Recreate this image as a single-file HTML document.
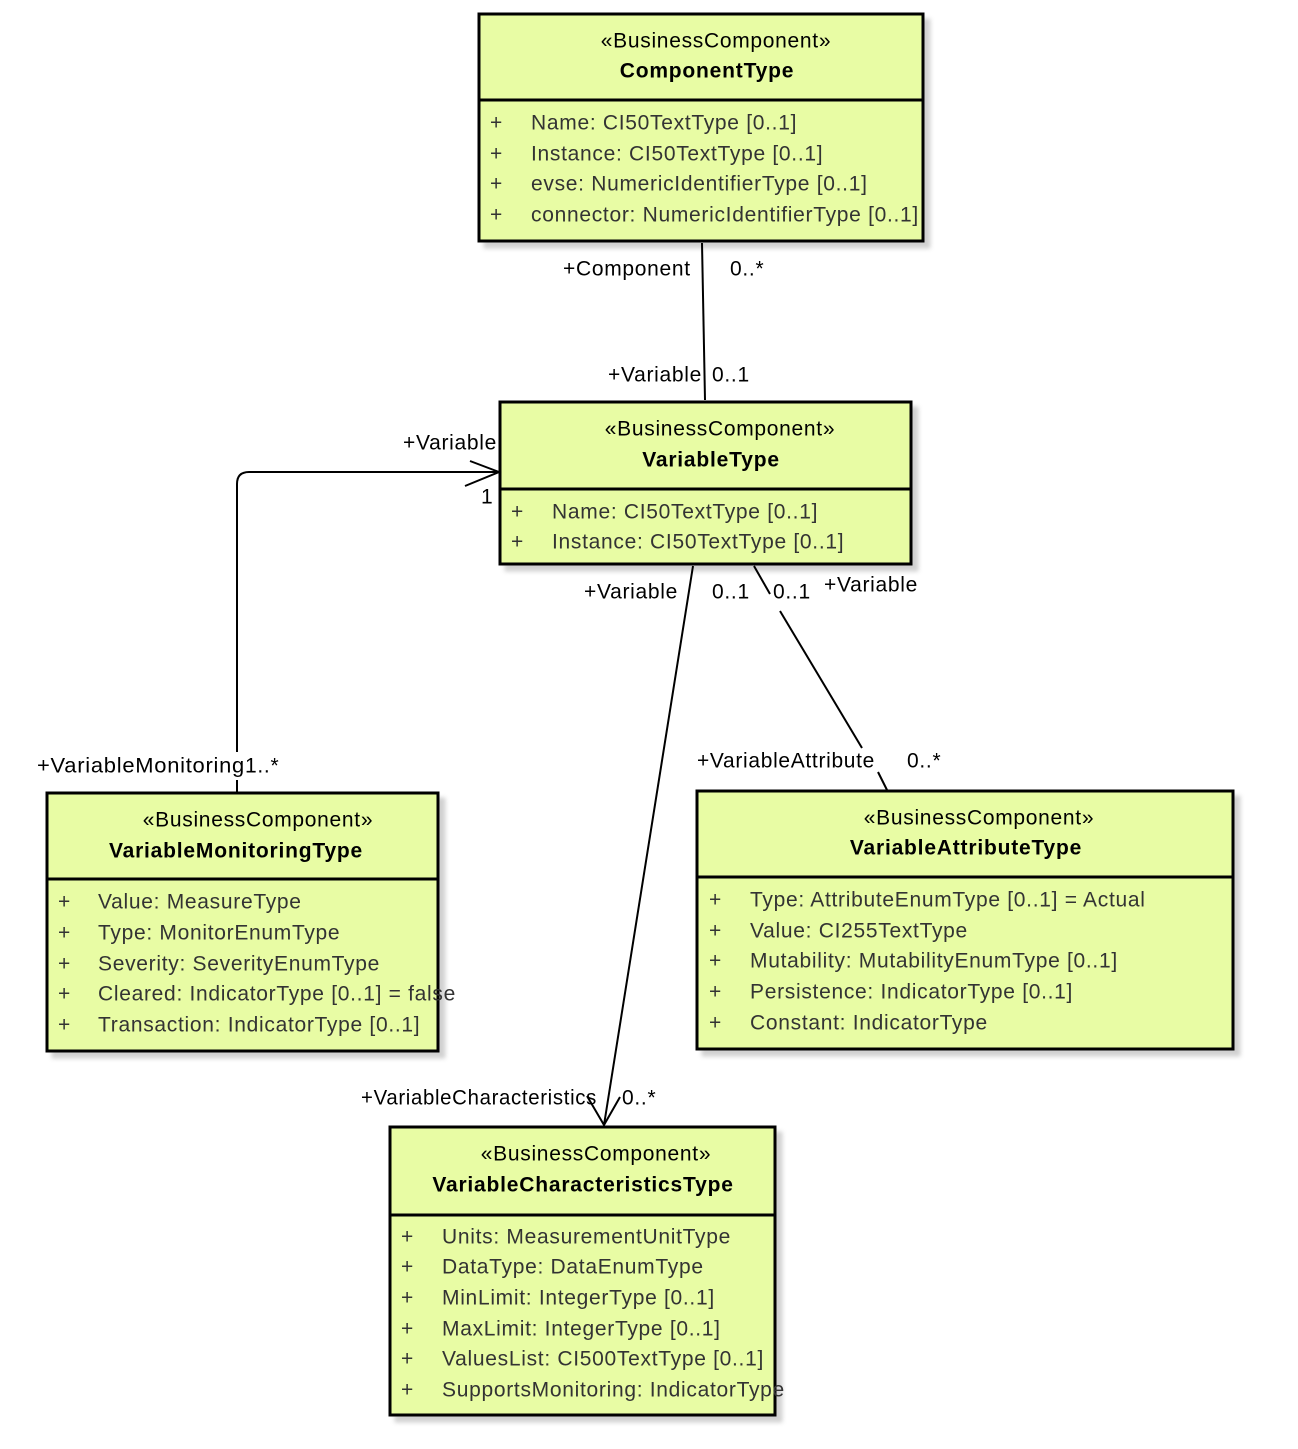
<!DOCTYPE html>
<html><head><meta charset="utf-8"><style>
html,body{margin:0;padding:0;background:#fff;}
svg{display:block;}
text{font-family:"Liberation Sans",sans-serif;font-size:21px;letter-spacing:0.7px;}
.a{fill:#333;}
.b{font-weight:bold;fill:#000;letter-spacing:0.8px;}
.l{fill:#000;}
</style></head><body>
<svg width="1298" height="1449" viewBox="0 0 1298 1449">
<defs>
<filter id="s" x="-5%" y="-5%" width="115%" height="115%"><feDropShadow dx="6" dy="6" stdDeviation="2" flood-color="#000" flood-opacity="0.18"/></filter>
</defs>
<g fill="#e8fca4" stroke="#000" stroke-width="3">
<rect x="479" y="14" width="444" height="227" filter="url(#s)"/>
<rect x="500" y="402" width="411" height="162" filter="url(#s)"/>
<rect x="47" y="793" width="391" height="258" filter="url(#s)"/>
<rect x="697" y="791" width="536" height="258" filter="url(#s)"/>
<rect x="390" y="1127" width="385" height="288" filter="url(#s)"/>
</g>
<g stroke="#000" stroke-width="3">
<line x1="479" y1="100" x2="923" y2="100"/>
<line x1="500" y1="489" x2="911" y2="489"/>
<line x1="47" y1="879" x2="438" y2="879"/>
<line x1="697" y1="877" x2="1233" y2="877"/>
<line x1="390" y1="1215" x2="775" y2="1215"/>
</g>
<g stroke="#000" stroke-width="2" fill="none">
<line x1="702" y1="243" x2="705" y2="400"/>
<path d="M237 752 L237 484 Q237 472 249 472 L498 472"/>
<line x1="237" y1="780" x2="237" y2="792"/>
<path d="M470 461 L499 472 L465 486"/>
<line x1="693" y1="566" x2="604" y2="1125"/>
<path d="M587 1096 L604 1125 L620 1097"/>
<line x1="754" y1="566" x2="770" y2="594"/>
<line x1="780" y1="611" x2="862" y2="748"/>
<line x1="878" y1="772" x2="887" y2="790"/>
</g>
<g text-anchor="middle" dominant-baseline="central">
<text x="716" y="41">«BusinessComponent»</text>
<text x="707" y="71" class="b">ComponentType</text>
<text x="720" y="429">«BusinessComponent»</text>
<text x="711" y="460" class="b">VariableType</text>
<text x="258" y="820">«BusinessComponent»</text>
<text x="236" y="851" class="b">VariableMonitoringType</text>
<text x="979" y="818">«BusinessComponent»</text>
<text x="966" y="848" class="b">VariableAttributeType</text>
<text x="596" y="1154">«BusinessComponent»</text>
<text x="583" y="1185" class="b">VariableCharacteristicsType</text>
</g>
<g dominant-baseline="central" class="a">
<text x="490" y="123">+</text><text x="531" y="123">Name: CI50TextType [0..1]</text>
<text x="490" y="154">+</text><text x="531" y="154">Instance: CI50TextType [0..1]</text>
<text x="490" y="184">+</text><text x="531" y="184">evse: NumericIdentifierType [0..1]</text>
<text x="490" y="215">+</text><text x="531" y="215">connector: NumericIdentifierType [0..1]</text>
<text x="511" y="512">+</text><text x="552" y="512">Name: CI50TextType [0..1]</text>
<text x="511" y="542">+</text><text x="552" y="542">Instance: CI50TextType [0..1]</text>
<text x="58" y="902">+</text><text x="98" y="902">Value: MeasureType</text>
<text x="58" y="933">+</text><text x="98" y="933">Type: MonitorEnumType</text>
<text x="58" y="964">+</text><text x="98" y="964">Severity: SeverityEnumType</text>
<text x="58" y="994">+</text><text x="98" y="994">Cleared: IndicatorType [0..1] = false</text>
<text x="58" y="1025">+</text><text x="98" y="1025">Transaction: IndicatorType [0..1]</text>
<text x="709" y="900">+</text><text x="750" y="900">Type: AttributeEnumType [0..1] = Actual</text>
<text x="709" y="931">+</text><text x="750" y="931">Value: CI255TextType</text>
<text x="709" y="961">+</text><text x="750" y="961">Mutability: MutabilityEnumType [0..1]</text>
<text x="709" y="992">+</text><text x="750" y="992">Persistence: IndicatorType [0..1]</text>
<text x="709" y="1023">+</text><text x="750" y="1023">Constant: IndicatorType</text>
<text x="401" y="1237">+</text><text x="442" y="1237">Units: MeasurementUnitType</text>
<text x="401" y="1267">+</text><text x="442" y="1267">DataType: DataEnumType</text>
<text x="401" y="1298">+</text><text x="442" y="1298">MinLimit: IntegerType [0..1]</text>
<text x="401" y="1329">+</text><text x="442" y="1329">MaxLimit: IntegerType [0..1]</text>
<text x="401" y="1359">+</text><text x="442" y="1359">ValuesList: CI500TextType [0..1]</text>
<text x="401" y="1390">+</text><text x="442" y="1390">SupportsMonitoring: IndicatorType</text>
</g>
<g dominant-baseline="central" class="l">
<text x="563" y="269">+Component</text>
<text x="730" y="269">0..*</text>
<text x="608" y="375">+Variable</text>
<text x="712" y="375">0..1</text>
<text x="403" y="443">+Variable</text>
<text x="481" y="497">1</text>
<text x="584" y="592">+Variable</text>
<text x="712" y="592">0..1</text>
<text x="773" y="592">0..1</text>
<text x="824" y="585">+Variable</text>
<text x="37" y="766" textLength="208" lengthAdjust="spacingAndGlyphs">+VariableMonitoring</text>
<text x="245" y="766">1..*</text>
<text x="697" y="761" textLength="178" lengthAdjust="spacingAndGlyphs">+VariableAttribute</text>
<text x="907" y="761">0..*</text>
<text x="361" y="1098" textLength="236" lengthAdjust="spacingAndGlyphs">+VariableCharacteristics</text>
<text x="622" y="1098">0..*</text>
</g>
</svg>
</body></html>
